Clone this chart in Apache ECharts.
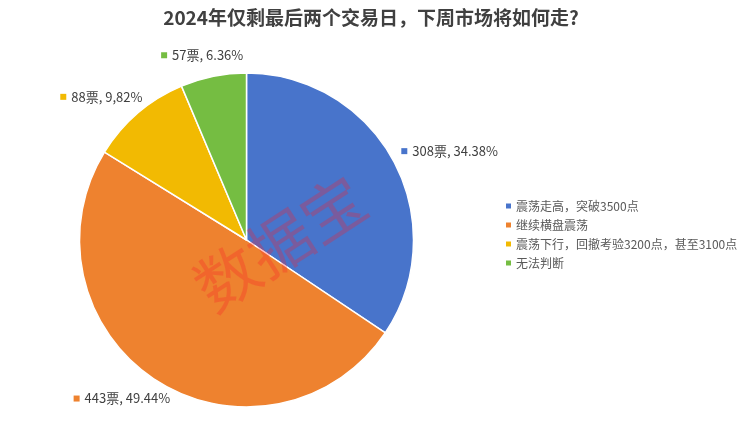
<!DOCTYPE html>
<html>
<head>
<meta charset="utf-8">
<script src="https://cdn.jsdelivr.net/npm/echarts@6/dist/echarts.min.js"></script>
<style>
html,body{margin:0;padding:0;background:#fff;}
#c{width:742px;height:439px;}
</style>
</head>
<body>
<div id="c"></div>
<script>
// ---- data ----
const categories = ['震荡走高，突破3500点', '继续横盘震荡', '震荡下行，回撤考验3200点，甚至3100点', '无法判断'];
const votes = [308, 443, 88, 57];
const percentLabels = ['34.38%', '49.44%', '9,82%', '6.36%'];
const colors = ['#4874CB', '#EE822F', '#F2BA02', '#75BD42'];
const titleText = '2024年仅剩最后两个交易日，下周市场将如何走?';
const watermark = '数据宝';

// ---- layout ----
const CX = 246.5, CY = 240, R = 167, LABEL_R = 182;
const total = votes.reduce((a, b) => a + b, 0);
const midAngles = [];
let acc = 0;
votes.forEach(v => {
  const start = Math.PI / 2 - acc / total * 2 * Math.PI;
  acc += v;
  const end = Math.PI / 2 - acc / total * 2 * Math.PI;
  midAngles.push((start + end) / 2);
});

const data = categories.map((name, i) => ({
  name: name,
  value: votes[i],
  itemStyle: { color: colors[i] },
  label: {
    formatter: '{m|}{t|' + votes[i] + '票, ' + percentLabels[i] + '}',
    rich: {
      m: { width: 6, height: 6, backgroundColor: colors[i] },
      t: { fontSize: 13, color: '#404040', padding: [0, 0, 0, 5], fontFamily: '"Noto Sans CJK SC", "Noto Sans", sans-serif' }
    }
  }
}));

const chart = echarts.init(document.getElementById('c'));
chart.setOption({
  animation: false,
  backgroundColor: '#ffffff',
  title: {
    text: titleText,
    left: 'center',
    top: 3,
    textStyle: { fontSize: 19, fontWeight: 'bold', color: '#404040', fontFamily: '"Noto Sans CJK SC", sans-serif' }
  },
  legend: {
    orient: 'vertical',
    left: 499,
    top: 195,
    icon: 'rect',
    itemWidth: 7,
    itemHeight: 7,
    itemGap: 7,
    data: categories,
    textStyle: { fontSize: 12, color: '#595959', fontFamily: '"Noto Sans CJK SC", sans-serif', padding: [0, 0, 0, -1] }
  },
  graphic: [{
    type: 'text',
    x: 280, y: 243,
    rotation: 33 * Math.PI / 180,
    z: 100,
    style: {
      text: watermark,
      fontSize: 63,
      fontFamily: '"Noto Sans CJK SC", sans-serif',
      fill: 'rgba(250,30,40,0.28)',
      align: 'center',
      verticalAlign: 'middle'
    }
  }],
  series: [{
    type: 'pie',
    center: [CX, CY],
    radius: [0, R],
    startAngle: 90,
    clockwise: true,
    avoidLabelOverlap: false,
    itemStyle: { borderColor: '#ffffff', borderWidth: 1.5 },
    label: { show: true, position: 'outside' },
    labelLine: { show: false, length: 15, length2: 0 },
    emphasis: { disabled: true },
    labelLayout: function (p) {
      const a = midAngles[p.dataIndex];
      const c = Math.cos(a), s = Math.sin(a);
      const w = p.labelRect.width, h = p.labelRect.height;
      return {
        x: CX + LABEL_R * c + c * w / 2,
        y: CY - LABEL_R * s - s * h / 2,
        align: 'center',
        verticalAlign: 'middle'
      };
    },
    data: data
  }]
});
</script>
</body>
</html>
